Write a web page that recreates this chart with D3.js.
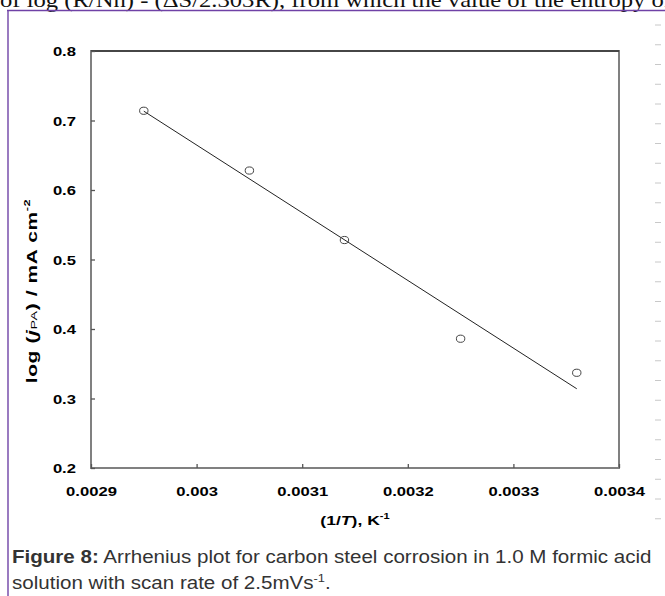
<!DOCTYPE html>
<html lang="en">
<head>
<meta charset="UTF-8" />
<title>Arrhenius plot</title>
<style>
  * { margin:0; padding:0; box-sizing:border-box; }
  body { background:#fff; width:665px; height:596px; overflow:hidden; }
  svg { display:block; }
  .tick-lbl { font-family:'Liberation Sans',Arial,sans-serif; font-weight:bold; font-size:12.8px; fill:#000; }
  .ax-title { font-family:'Liberation Sans',Arial,sans-serif; font-weight:bold; fill:#000; }
  .caption { font-family:'Liberation Sans',Arial,sans-serif; font-size:17.5px; fill:#333; }
</style>
</head>
<body>
<script src="https://cdn.jsdelivr.net/npm/d3@7"></script>
<script>
  // data
  const invT = [0.00295, 0.00305, 0.00314, 0.00325, 0.00336];
  const logJ = [0.714, 0.628, 0.528, 0.386, 0.337];
  const xTicks = [0.0029, 0.003, 0.0031, 0.0032, 0.0033, 0.0034];
  const xTickLabels = ['0.0029', '0.003', '0.0031', '0.0032', '0.0033', '0.0034'];
  const yTicks = [0.2, 0.3, 0.4, 0.5, 0.6, 0.7, 0.8];
  const yTickLabels = ['0.2', '0.3', '0.4', '0.5', '0.6', '0.7', '0.8'];

  const W = 665, H = 596;
  const plot = { left:91, right:619, top:51, bottom:468 };
  const SX = 1.3; // the chart image is stretched sideways

  const svg = d3.select('body').append('svg').attr('width', W).attr('height', H);

  // clipped page text above the figure frame
  svg.append('text')
    .attr('x', 0).attr('y', 7)
    .attr('textLength', 672).attr('lengthAdjust', 'spacingAndGlyphs')
    .style('font-family', "'Liberation Serif','Times New Roman',serif")
    .style('font-size', '22px').attr('fill', '#111')
    .text('of log (R/Nh) - (\u0394S/2.303R), from which the value of the entropy of');

  // purple frame of the figure box
  svg.append('line').attr('x1', 7).attr('x2', W).attr('y1', 10.5).attr('y2', 10.5)
    .attr('stroke', '#6f42a6').attr('stroke-width', 1.4);
  svg.append('line').attr('x1', 8).attr('x2', 8).attr('y1', 10).attr('y2', H)
    .attr('stroke', '#6f42a6').attr('stroke-width', 1.4);

  // little gray dashes on the right margin
  svg.append('g').selectAll('line').data(d3.range(25, 532, 19.75)).join('line')
    .attr('x1', 655).attr('x2', 661).attr('y1', d => d).attr('y2', d => d)
    .attr('stroke', '#c8c8c8').attr('stroke-width', 1);

  const x = d3.scaleLinear().domain([0.0029, 0.0034]).range([plot.left, plot.right]);
  const y = d3.scaleLinear().domain([0.2, 0.8]).range([plot.bottom, plot.top]);

  // plot frame
  svg.append('rect')
    .attr('x', plot.left).attr('y', plot.top)
    .attr('width', plot.right - plot.left).attr('height', plot.bottom - plot.top)
    .attr('fill', 'none').attr('stroke', '#808080').attr('stroke-width', 2);
  svg.append('line').attr('x1', plot.left).attr('x2', plot.right)
    .attr('y1', plot.top).attr('y2', plot.top)
    .attr('stroke', '#333').attr('stroke-width', 1.4);

  // axes with inside ticks
  const xAxis = svg.append('g').attr('transform', `translate(0,${plot.bottom})`)
    .call(d3.axisBottom(x).tickValues(xTicks).tickSizeInner(-4).tickSizeOuter(0)
      .tickFormat((d, i) => xTickLabels[i]));
  const yAxis = svg.append('g').attr('transform', `translate(${plot.left},0)`)
    .call(d3.axisLeft(y).tickValues(yTicks).tickSizeInner(-4).tickSizeOuter(0)
      .tickFormat((d, i) => yTickLabels[i]));
  [xAxis, yAxis].forEach(g => {
    g.select('.domain').remove();
    g.selectAll('.tick line').attr('stroke', '#555').attr('stroke-width', 1.3);
    g.selectAll('.tick text').attr('class', 'tick-lbl').attr('x', null).attr('y', null).attr('dy', null);
  });
  xAxis.selectAll('.tick text').attr('text-anchor', 'middle')
    .attr('transform', `translate(0,27.5) scale(${SX},1)`);
  yAxis.selectAll('.tick text').attr('text-anchor', 'end')
    .attr('transform', `translate(-15,4.6) scale(${SX},1)`);

  // least squares fit line through the points
  const mx = d3.mean(invT), my = d3.mean(logJ);
  const slope = d3.sum(invT, (v, i) => (v - mx) * (logJ[i] - my)) / d3.sum(invT, v => (v - mx) ** 2);
  const fit = v => my + slope * (v - mx);
  const xEnds = d3.extent(invT);
  svg.append('line')
    .attr('x1', x(xEnds[0])).attr('y1', y(fit(xEnds[0])))
    .attr('x2', x(xEnds[1])).attr('y2', y(fit(xEnds[1])))
    .attr('stroke', '#222').attr('stroke-width', 1);

  // open markers
  svg.append('g').selectAll('ellipse').data(invT).join('ellipse')
    .attr('cx', d => x(d)).attr('cy', (d, i) => y(logJ[i]))
    .attr('rx', 4.2).attr('ry', 3.6)
    .attr('fill', 'none').attr('stroke', '#444').attr('stroke-width', 1);

  // axis titles
  const xt = svg.append('text').attr('class', 'ax-title')
    .attr('text-anchor', 'middle').style('font-size', '13.5px')
    .attr('transform', `translate(${(plot.left + plot.right) / 2},525) scale(${SX},1)`);
  xt.append('tspan').text('(1/');
  xt.append('tspan').style('font-style', 'italic').text('T');
  xt.append('tspan').text('), K');
  xt.append('tspan').attr('dy', -6).style('font-size', '8.5px').text('-1');

  const yt = svg.append('text').attr('class', 'ax-title')
    .attr('text-anchor', 'middle').style('font-size', '14px').style('letter-spacing', '0.4px')
    .attr('transform', `translate(37,291) rotate(-90) scale(1.5,1.05)`);
  yt.append('tspan').text('log (');
  yt.append('tspan').style('font-style', 'italic').text('j');
  yt.append('tspan').style('font-size', '9.5px').style('font-weight', 'normal').text('PA');
  yt.append('tspan').text(') / mA cm');
  yt.append('tspan').attr('dy', -7).style('font-size', '8.5px').text('-2');

  // figure caption
  const cap = svg.append('g').attr('transform', 'translate(12,0) scale(1.175,1)');
  const l1 = cap.append('text').attr('class', 'caption').attr('x', 0).attr('y', 563);
  l1.append('tspan').style('font-weight', 'bold').text('Figure 8:');
  l1.append('tspan').text(' Arrhenius plot for carbon steel corrosion in 1.0 M formic acid');
  const l2 = cap.append('text').attr('class', 'caption').attr('x', 0).attr('y', 589);
  l2.append('tspan').text('solution with scan rate of 2.5mVs');
  l2.append('tspan').attr('dy', -7).style('font-size', '11px').text('-1');
  l2.append('tspan').attr('dy', 7).text('.');
</script>
</body>
</html>
